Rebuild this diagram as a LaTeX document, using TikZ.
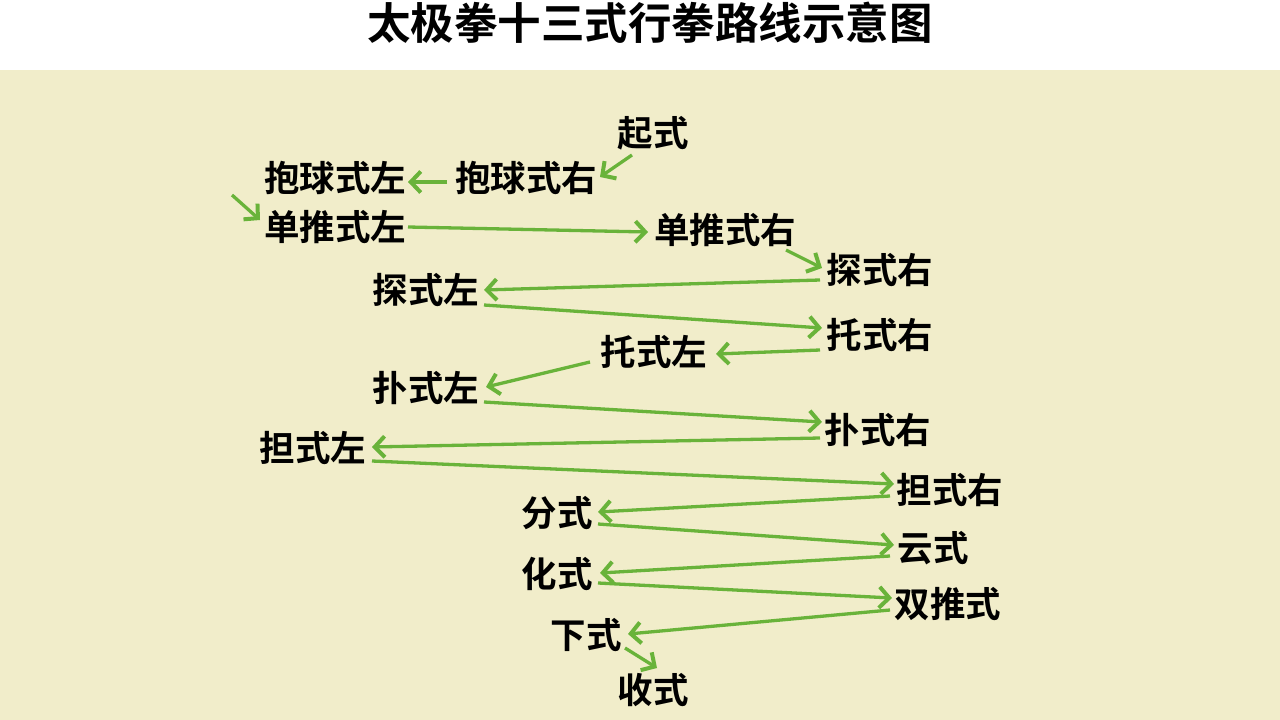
\documentclass[tikz,border=0pt]{standalone}
\usepackage{fontspec}
\newfontfamily\cjk{Noto Sans CJK SC}[BoldFont={Noto Sans CJK SC Bold}]
\usetikzlibrary{arrows.meta}
\definecolor{bgcream}{HTML}{F1EDCA}
\definecolor{arrgreen}{HTML}{69B33A}
\tikzset{
  lbl/.style={inner sep=0pt, font=\cjk\bfseries\fontsize{35.5}{40}\selectfont, text=black},
  ttl/.style={inner sep=0pt, font=\cjk\bfseries\fontsize{43.5}{48}\selectfont, text=black},
  flow/.style={draw=arrgreen, line width=3.3pt, -{Straight Barb[length=10pt,width=21pt,line width=4pt]}},
}
\begin{document}
\begin{tikzpicture}[x=1pt,y=-1pt]
\useasboundingbox (0,0) rectangle (1280,720);
\fill[white] (0,0) rectangle (1280,720);
\fill[bgcream] (0,70) rectangle (1280,720);
\node[ttl] (title) at (650,23) {太极拳十三式行拳路线示意图};

\node[lbl] (qs)   at (653,133) {起式};
\node[lbl] (bqr)  at (526,178) {抱球式右};
\node[lbl] (bql)  at (335,178) {抱球式左};
\node[lbl] (dtl)  at (335,227) {单推式左};
\node[lbl] (dtr)  at (725,230) {单推式右};
\node[lbl] (tsr)  at (880,270) {探式右};
\node[lbl] (tsl)  at (426,290) {探式左};
\node[lbl] (tor)  at (880,335) {托式右};
\node[lbl] (tol)  at (654,352) {托式左};
\node[lbl] (pul)  at (426,388) {扑式左};
\node[lbl] (pur)  at (878,430) {扑式右};
\node[lbl] (dal)  at (313,448) {担式左};
\node[lbl] (dar)  at (950,490) {担式右};
\node[lbl] (fs)   at (557,513) {分式};
\node[lbl] (ys)   at (933,548) {云式};
\node[lbl] (hs)   at (557,574) {化式};
\node[lbl] (stsh) at (948,604) {双推式};
\node[lbl] (xs)   at (586,635) {下式};
\node[lbl] (ss)   at (653,690) {收式};
\coordinate (free) at (232,195);

\draw[flow] ([shift={(-21,22)}]qs.center) -- ([shift={(74,-1)}]bqr.center);
\draw[flow] ([shift={(-79,4)}]bqr.center) -- ([shift={(73,4)}]bql.center);
\draw[flow] (free) -- ([shift={(-75,-7)}]dtl.center);
\draw[flow] ([shift={(73,0)}]dtl.center) -- ([shift={(-77,2)}]dtr.center);
\draw[flow] ([shift={(61,20)}]dtr.center) -- ([shift={(-58,-2)}]tsr.center);
\draw[flow] ([shift={(-60,10)}]tsr.center) -- ([shift={(58,0)}]tsl.center);
\draw[flow] ([shift={(58,15)}]tsl.center) -- ([shift={(-58,-7)}]tor.center);
\draw[flow] ([shift={(-60,15)}]tor.center) -- ([shift={(62,2)}]tol.center);
\draw[flow] ([shift={(-64,10)}]tol.center) -- ([shift={(60,-1)}]pul.center);
\draw[flow] ([shift={(58,14)}]pul.center) -- ([shift={(-56,-8)}]pur.center);
\draw[flow] ([shift={(-58,8)}]pur.center) -- ([shift={(59,-1)}]dal.center);
\draw[flow] ([shift={(59,13)}]dal.center) -- ([shift={(-56,-6)}]dar.center);
\draw[flow] ([shift={(-60,6)}]dar.center) -- ([shift={(41,-1)}]fs.center);
\draw[flow] ([shift={(41,11)}]fs.center) -- ([shift={(-39,-3)}]ys.center);
\draw[flow] ([shift={(-43,8)}]ys.center) -- ([shift={(43,-1)}]hs.center);
\draw[flow] ([shift={(41,9)}]hs.center) -- ([shift={(-56,-6)}]stsh.center);
\draw[flow] ([shift={(-58,6)}]stsh.center) -- ([shift={(42,-1)}]xs.center);
\draw[flow] ([shift={(39,13)}]xs.center) -- ([shift={(4,-22)}]ss.center);
\end{tikzpicture}
\end{document}
